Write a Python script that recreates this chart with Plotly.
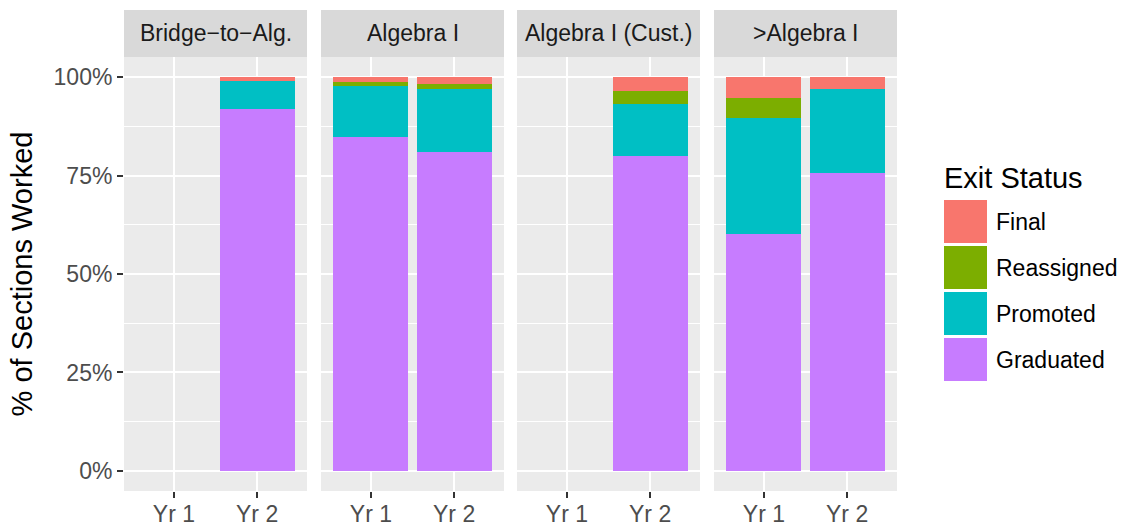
import plotly.graph_objects as go

# ---- data (percent of sections worked) ----
panels = ["Bridge\u2212to\u2212Alg.", "Algebra I", "Algebra I (Cust.)", ">Algebra I"]
years = ["Yr 1", "Yr 2"]
statuses = ["Graduated", "Promoted", "Reassigned", "Final"]
graduated = [[None, 91.9], [84.8, 81.0], [None, 79.9], [60.2, 75.6]]
promoted = [[None, 7.1], [12.9, 15.9], [None, 13.2], [29.4, 21.4]]
reassigned = [[None, 0.0], [1.0, 1.3], [None, 3.3], [5.1, 0.0]]
final = [[None, 1.0], [1.3, 1.8], [None, 3.6], [5.3, 3.0]]
colors = {"Final": "#F8766D", "Reassigned": "#7CAE00", "Promoted": "#00BFC4", "Graduated": "#C77CFF"}
y_ticks = [0, 0.25, 0.5, 0.75, 1.0]

series = {"Graduated": graduated, "Promoted": promoted, "Reassigned": reassigned, "Final": final}

W, H = 1123, 525
FONT = "Liberation Sans, Arial, sans-serif"
panel_x = [(124, 307), (321, 504), (517, 700), (714, 897)]
panel_top, panel_bot = 57, 491
strip_top = 10

def px_x(v):
    return v / W

def px_y(v):
    return 1 - v / H

fig = go.Figure()
layout = dict(
    width=W, height=H,
    margin=dict(l=0, r=0, t=0, b=0, autoexpand=False),
    paper_bgcolor="white", plot_bgcolor="#EBEBEB",
    barmode="stack", bargap=0.1, showlegend=False,
    font=dict(family=FONT, color="#4D4D4D"),
)

for i, name in enumerate(panels):
    sfx = "" if i == 0 else str(i + 1)
    for st in statuses:
        vals = [None if v is None else v / 100 for v in series[st][i]]
        fig.add_trace(go.Bar(
            x=years, y=vals, name=st, xaxis="x" + sfx, yaxis="y" + sfx,
            marker=dict(color=colors[st], line=dict(width=0)),
            width=0.9, hoverinfo="x+y+name",
        ))
    x0, x1 = panel_x[i]
    layout["xaxis" + sfx] = dict(
        domain=[px_x(x0), px_x(x1)], anchor="y" + sfx,
        type="category", categoryorder="array", categoryarray=years,
        range=[-0.6, 1.6], showgrid=True, gridcolor="white", gridwidth=2.2,
        ticks="outside", ticklen=6, tickwidth=2, tickcolor="#333333",
        ticklabelstandoff=-4,
        tickfont=dict(size=23, color="#4D4D4D", family=FONT),
        showline=False, zeroline=False, fixedrange=True, automargin=False,
    )
    layout["yaxis" + sfx] = dict(
        domain=[px_y(panel_bot), px_y(panel_top)], anchor="x" + sfx,
        range=[-0.0508, 1.0508], tickvals=y_ticks, tickformat=".0%",
        showgrid=True, gridcolor="white", gridwidth=2.2,
        minor=dict(tickvals=[0.125, 0.375, 0.625, 0.875], showgrid=True,
                   gridcolor="white", gridwidth=1.1),
        zeroline=False, showline=False, fixedrange=True, automargin=False,
        showticklabels=(i == 0),
        ticks="outside" if i == 0 else "", ticklen=6, tickwidth=2, tickcolor="#333333",
        tickfont=dict(size=23, color="#4D4D4D", family=FONT),
    )
    if i == 0:
        layout["yaxis"]["title"] = dict(text="% of Sections Worked",
                                        font=dict(size=29, color="black", family=FONT),
                                        standoff=12)

shapes = []
annotations = []
for i, name in enumerate(panels):
    x0, x1 = panel_x[i]
    shapes.append(dict(type="rect", xref="paper", yref="paper",
                       x0=px_x(x0), x1=px_x(x1), y0=px_y(panel_top), y1=px_y(strip_top),
                       fillcolor="#D9D9D9", line=dict(width=0), layer="below"))
    annotations.append(dict(text=name, xref="paper", yref="paper",
                            x=px_x((x0 + x1) / 2), y=px_y((panel_top + strip_top) / 2),
                            xanchor="center", yanchor="middle", showarrow=False,
                            font=dict(size=23, color="#1A1A1A", family=FONT)))

# legend (drawn in ggplot style)
legend_order = ["Final", "Reassigned", "Promoted", "Graduated"]
annotations.append(dict(text="Exit Status", xref="paper", yref="paper",
                        x=px_x(942), y=px_y(178), xanchor="left", yanchor="middle",
                        showarrow=False, font=dict(size=29, color="black", family=FONT)))
for k, st in enumerate(legend_order):
    top = 200 + k * 46
    shapes.append(dict(type="rect", xref="paper", yref="paper",
                       x0=px_x(944), x1=px_x(987), y0=px_y(top + 43), y1=px_y(top),
                       fillcolor=colors[st], line=dict(width=0)))
    annotations.append(dict(text=st, xref="paper", yref="paper",
                            x=px_x(994), y=px_y(top + 21.5), xanchor="left", yanchor="middle",
                            showarrow=False, font=dict(size=23, color="black", family=FONT)))

layout["shapes"] = shapes
layout["annotations"] = annotations
fig.update_layout(**layout)
fig.write_html("out.html", config={"displayModeBar": False},
               post_script="document.body.style.margin='0';document.body.style.overflow='hidden';")
